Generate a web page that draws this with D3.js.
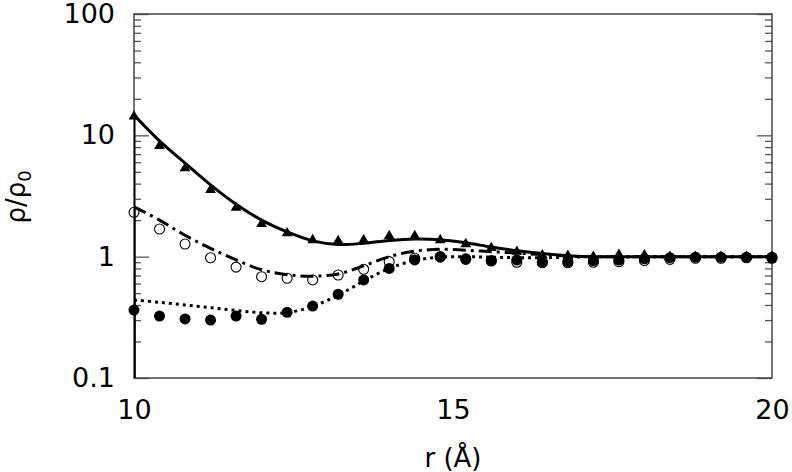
<!DOCTYPE html>
<html><head><meta charset="utf-8">
<script src="https://cdn.jsdelivr.net/npm/d3@7"></script>
<style>body{margin:0;background:#fff}svg{display:block}text{font-family:"DejaVu Sans",sans-serif}</style>
</head><body><svg id="c" width="792" height="472"></svg>
<script>
// curve samples (r in Å)
const lineR      = [10, 10.4, 10.8, 11.2, 11.6, 12.0, 12.4, 12.8, 13.2, 13.6, 14.0, 14.4, 14.8, 15.2, 15.6, 16.0, 16.4, 16.8, 17.2, 17.6, 18.0, 19.0, 20.0];
const solidLine  = [14.7, 9.0, 5.9, 3.9, 2.7, 2.0, 1.6, 1.35, 1.26, 1.29, 1.36, 1.40, 1.38, 1.30, 1.20, 1.12, 1.06, 1.02, 1.0, 1.0, 1.0, 1.0, 1.0];
const dashDotLine= [2.58, 2.0, 1.5, 1.17, 0.94, 0.78, 0.71, 0.69, 0.72, 0.84, 1.0, 1.11, 1.15, 1.13, 1.10, 1.07, 1.04, 1.01, 1.0, 1.0, 1.0, 1.0, 1.0];
const dottedLine = [0.44, 0.42, 0.40, 0.38, 0.36, 0.345, 0.345, 0.39, 0.48, 0.63, 0.80, 0.93, 0.99, 1.0, 0.99, 0.98, 0.98, 0.99, 1.0, 1.0, 1.0, 1.0, 1.0];
// simulation markers
const markR      = [10, 10.4, 10.8, 11.2, 11.6, 12.0, 12.4, 12.8, 13.2, 13.6, 14.0, 14.4, 14.8, 15.2, 15.6, 16.0, 16.4, 16.8, 17.2, 17.6, 18.0, 18.4, 18.8, 19.2, 19.6, 20.0];
const triangles  = [14.3, 8.2, 5.36, 3.55, 2.53, 1.86, 1.56, 1.37, 1.35, 1.37, 1.48, 1.48, 1.37, 1.27, 1.18, 1.10, 1.03, 1.02, 1.0, 1.04, 1.03, 1.0, 1.0, 1.0, 1.0, 1.0];
const openCirc   = [2.32, 1.69, 1.27, 0.98, 0.82, 0.684, 0.664, 0.643, 0.706, 0.787, 0.91, 0.97, 1.0, 0.95, 0.92, 0.90, 0.89, 0.89, 0.90, 0.91, 0.93, 0.95, 0.97, 0.97, 0.98, 0.99];
const filledCirc = [0.363, 0.324, 0.307, 0.30, 0.324, 0.305, 0.348, 0.392, 0.49, 0.643, 0.80, 0.94, 0.99, 0.96, 0.93, 0.94, 0.91, 0.91, 0.93, 0.94, 0.96, 0.98, 0.99, 0.99, 0.99, 0.97];
const xTicks = [10, 15, 20];
const yTicks = [0.1, 1, 10, 100];
const yTickLabels = ["0.1", "1", "10", "100"];

const svg = d3.select("#c");
const L = 134, R = 772, T = 14, B = 378;
const x = d3.scaleLinear().domain([10, 20]).range([L, R]);
const y = d3.scaleLog().domain([0.1, 100]).range([B, T]);

svg.append("defs").append("clipPath").attr("id", "clip")
  .append("rect").attr("x", L).attr("y", T).attr("width", R - L).attr("height", B - T);

// minor log ticks
const minor = [];
[0.1, 1, 10].forEach(d => { for (let k = 2; k <= 9; k++) minor.push(d * k); });

function styleAxis(g) {
  g.select(".domain").remove();
  g.selectAll(".tick line").attr("stroke", "#555").attr("stroke-width", 1.3);
  g.selectAll("text").attr("font-size", 27).attr("fill", "#000");
}
svg.append("g").attr("transform", `translate(${L},0)`)
  .call(d3.axisLeft(y).tickValues(minor).tickFormat("").tickSize(-7)).call(styleAxis);
svg.append("g").attr("transform", `translate(${L},0)`)
  .call(d3.axisLeft(y).tickValues(yTicks).tickFormat((d, i) => yTickLabels[i]).tickSize(-15).tickPadding(19)).call(styleAxis);
svg.append("g").attr("transform", `translate(${R},0)`)
  .call(d3.axisRight(y).tickValues(minor).tickFormat("").tickSize(-7)).call(styleAxis);
svg.append("g").attr("transform", `translate(${R},0)`)
  .call(d3.axisRight(y).tickValues(yTicks).tickFormat("").tickSize(-15)).call(styleAxis);
svg.append("g").attr("transform", `translate(0,${B})`)
  .call(d3.axisBottom(x).tickValues(xTicks).tickFormat(d3.format("d")).tickSize(0).tickPadding(22)).call(styleAxis);

// frame
svg.append("rect").attr("x", L).attr("y", T).attr("width", R - L).attr("height", B - T)
  .attr("fill", "none").attr("stroke", "#444").attr("stroke-width", 1.5);

const plot = svg.append("g").attr("clip-path", "url(#clip)");
const line = d3.line().x(d => x(d[0])).y(d => y(d[1])).curve(d3.curveCatmullRom.alpha(0.5));
const vline = d3.line().x(d => x(d[0])).y(d => y(d[1]));

const series = [
  { v: dottedLine, dash: "3,4" },
  { v: dashDotLine, dash: "13,5,3,5" },
  { v: solidLine, dash: null }
];
series.forEach(s => {
  const pts = lineR.map((r, i) => [r, s.v[i]]);
  plot.append("path").attr("d", vline([[lineR[0], 0.1], pts[0]]))
    .attr("fill", "none").attr("stroke", "#000").attr("stroke-width", 3);
  plot.append("path").attr("d", line(pts))
    .attr("fill", "none").attr("stroke", "#000").attr("stroke-width", 3)
    .attr("stroke-dasharray", s.dash);
});

// markers
svg.append("g").selectAll("circle.o").data(markR.map((r, i) => [r, openCirc[i]])).join("circle")
  .attr("cx", d => x(d[0])).attr("cy", d => y(d[1])).attr("r", 5)
  .attr("fill", "none").attr("stroke", "#000").attr("stroke-width", 1.1);
svg.append("g").selectAll("circle.f").data(markR.map((r, i) => [r, filledCirc[i]])).join("circle")
  .attr("cx", d => x(d[0])).attr("cy", d => y(d[1])).attr("r", 5.5).attr("fill", "#000");
const tri = d3.symbol(d3.symbolTriangle).size(50);
svg.append("g").selectAll("path").data(markR.map((r, i) => [r, triangles[i]])).join("path")
  .attr("d", tri).attr("transform", d => `translate(${x(d[0])},${y(d[1])})`).attr("fill", "#000");

// axis titles
svg.append("text").attr("x", x(15)).attr("y", 467).attr("text-anchor", "middle")
  .attr("font-size", 26).text("r (Å)");
const yl = svg.append("text").attr("transform", "translate(25,197) rotate(-90)")
  .attr("text-anchor", "middle").attr("font-size", 26);
yl.append("tspan").text("ρ/ρ");
yl.append("tspan").attr("font-size", 18).attr("dy", 6).text("0");
</script></body></html>
